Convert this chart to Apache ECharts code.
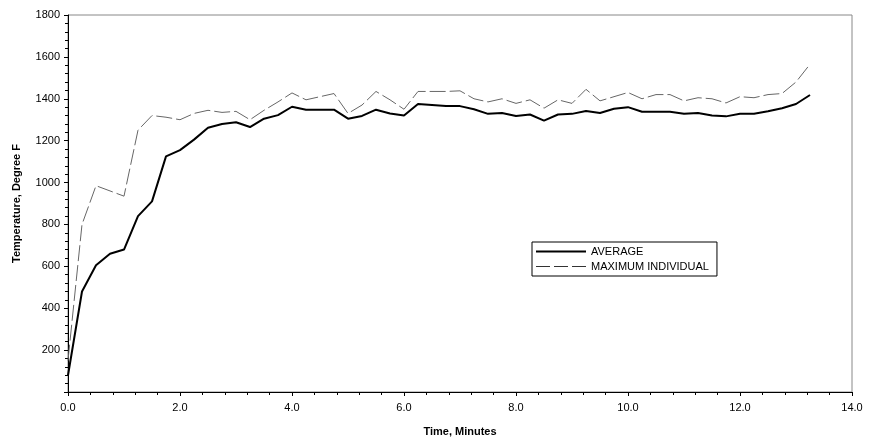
<!DOCTYPE html>
<html>
<head>
<meta charset="UTF-8">
<script src="https://cdn.jsdelivr.net/npm/echarts@6/dist/echarts.min.js"></script>
<style>
  html, body { margin: 0; background: #fff; }
  #main { width: 871px; height: 442px; }
</style>
</head>
<body>
<div id="main"></div>
<script>
    // time in minutes, sampled every 0.25 min
    var times = [];
    for (var i = 0; i <= 53; i++) times.push(i * 0.25);

    var average = [80, 480, 605, 660, 680, 840, 910, 1125, 1155, 1205, 1262, 1280, 1288, 1265, 1305, 1322,
        1362, 1348, 1348, 1348, 1305, 1318, 1348, 1330, 1320, 1375, 1370, 1365, 1365, 1350, 1328, 1332,
        1318, 1325, 1296, 1325, 1328, 1342, 1332, 1352, 1360, 1338, 1338, 1338, 1328, 1332, 1320, 1316,
        1328, 1328, 1340, 1355, 1375, 1418];

    var maxIndividual = [150, 800, 985, 960, 935, 1250, 1320, 1312, 1300, 1330, 1345, 1335, 1340, 1300, 1345, 1385,
        1428, 1395, 1410, 1425, 1330, 1370, 1435, 1395, 1350, 1435, 1435, 1435, 1438, 1400, 1385, 1400,
        1378, 1395, 1355, 1395, 1378, 1445, 1390, 1410, 1430, 1400, 1420, 1420, 1390, 1405, 1400, 1380,
        1410, 1405, 1420, 1425, 1480, 1565];

    function pairs(ys) {
        return times.map(function (t, i) { return [t, ys[i]]; });
    }

    var chart = echarts.init(document.getElementById('main'));
    var font = 'Arial, "Liberation Sans", sans-serif';

    chart.setOption({
        animation: false,
        textStyle: { fontFamily: font },
        grid: { left: 68, right: 19, top: 15, bottom: 49, show: true, borderColor: '#888', borderWidth: 1 },
        legend: {
            orient: 'vertical',
            left: 532, top: 242,
            padding: [4, 8, 4, 4],
            itemGap: 4,
            itemWidth: 50, itemHeight: 10,
            borderColor: '#000', borderWidth: 1,
            textStyle: { fontSize: 11, color: '#000', fontFamily: font },
            data: [
                { name: 'AVERAGE', icon: 'path://M0,4L50,4L50,6L0,6Z',
                  itemStyle: { color: '#000' } },
                { name: 'MAXIMUM INDIVIDUAL',
                  icon: 'path://M0,4.5L14,4.5L14,5.5L0,5.5ZM18,4.5L32,4.5L32,5.5L18,5.5ZM36,4.5L50,4.5L50,5.5L36,5.5Z',
                  itemStyle: { color: '#333' } }
            ]
        },
        xAxis: {
            type: 'value', min: 0, max: 14, interval: 2,
            name: 'Time, Minutes', nameLocation: 'middle', nameGap: 34,
            nameTextStyle: { fontWeight: 'bold', fontSize: 11, color: '#000' },
            axisLine: { lineStyle: { color: '#000' } },
            axisTick: { length: 4, lineStyle: { color: '#000' } },
            minorTick: { show: true, splitNumber: 5, length: 3, lineStyle: { color: '#000' } },
            splitLine: { show: false },
            axisLabel: { color: '#000', fontSize: 11, margin: 10, formatter: function (v) { return v.toFixed(1); } }
        },
        yAxis: {
            type: 'value', min: 0, max: 1800, interval: 200,
            name: 'Temperature, Degree F', nameLocation: 'middle', nameGap: 46,
            nameTextStyle: { fontWeight: 'bold', fontSize: 11, color: '#000' },
            axisLine: { show: true, lineStyle: { color: '#000' } },
            axisTick: { show: true, length: 4, lineStyle: { color: '#000' } },
            minorTick: { show: true, splitNumber: 5, length: 3, lineStyle: { color: '#000' } },
            splitLine: { show: false },
            axisLabel: { color: '#000', fontSize: 11, showMinLabel: false, formatter: function (v) { return String(v); } }
        },
        series: [
            {
                name: 'AVERAGE', type: 'line', data: pairs(average),
                symbol: 'none', lineStyle: { color: '#000', width: 2 }, itemStyle: { color: '#000' }
            },
            {
                name: 'MAXIMUM INDIVIDUAL', type: 'line', data: pairs(maxIndividual),
                symbol: 'none', lineStyle: { color: '#666', width: 1, type: [16, 4] }, itemStyle: { color: '#666' }
            }
        ]
    });
</script>
</body>
</html>
